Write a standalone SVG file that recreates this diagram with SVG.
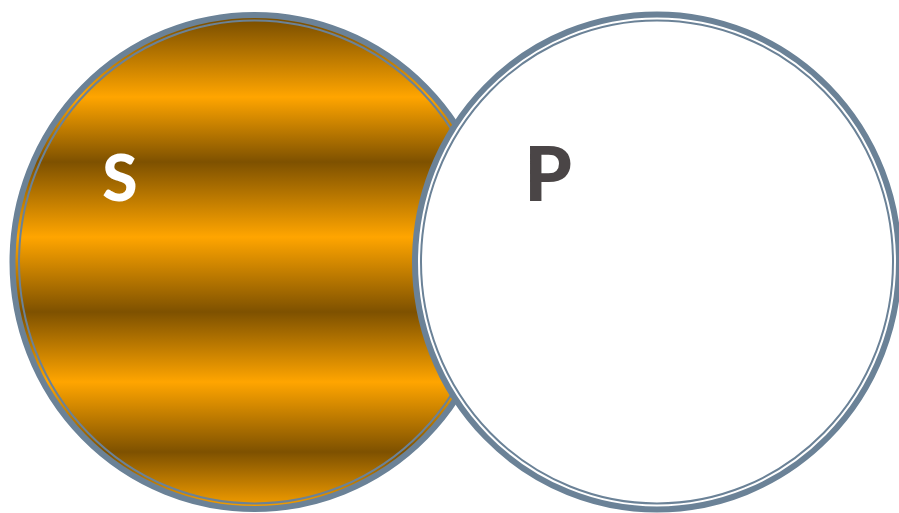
<svg xmlns="http://www.w3.org/2000/svg" width="899" height="513" viewBox="0 0 899 513">
  <defs>
    <linearGradient id="gold" gradientUnits="userSpaceOnUse" x1="0" y1="12" x2="0" y2="512">
      <stop offset="0" stop-color="#7E5100"/>
      <stop offset="0.02" stop-color="#7E5100"/>
      <stop offset="0.17" stop-color="#FFA500"/>
      <stop offset="0.30" stop-color="#7E5100"/>
      <stop offset="0.45" stop-color="#FFA500"/>
      <stop offset="0.60" stop-color="#7E5100"/>
      <stop offset="0.74" stop-color="#FFA500"/>
      <stop offset="0.88" stop-color="#7E5100"/>
      <stop offset="1" stop-color="#FFA500"/>
    </linearGradient>
  </defs>
  <style>
    .thick { fill: none; stroke: #6B8297; stroke-width: 6; }
    .thin { fill: none; stroke: #6B8297; stroke-width: 2; }
    .lbl { font-family: Lato, "Open Sans", "Liberation Sans", sans-serif; font-weight: 900; text-anchor: middle; }
  </style>
  <rect width="899" height="513" fill="#FFFFFF"/>
  <g id="node-S">
    <ellipse cx="254.5" cy="262" rx="244" ry="249" fill="url(#gold)"/>
    <ellipse class="thick" cx="254.5" cy="262" rx="242" ry="247"/>
    <ellipse class="thin" cx="254.5" cy="262" rx="235.5" ry="241.5"/>
    <text class="lbl" x="120" y="201" font-size="64" fill="#FFFFFF">S</text>
  </g>
  <g id="node-P">
    <ellipse cx="657" cy="262" rx="244" ry="249.5" fill="#FFFFFF"/>
    <ellipse class="thick" cx="657" cy="262" rx="242" ry="247.5"/>
    <ellipse class="thin" cx="657" cy="262" rx="236" ry="241.5"/>
    <text class="lbl" x="548" y="201" font-size="76" fill="#4A4546">P</text>
  </g>
  <g id="connectors"/>
</svg>
